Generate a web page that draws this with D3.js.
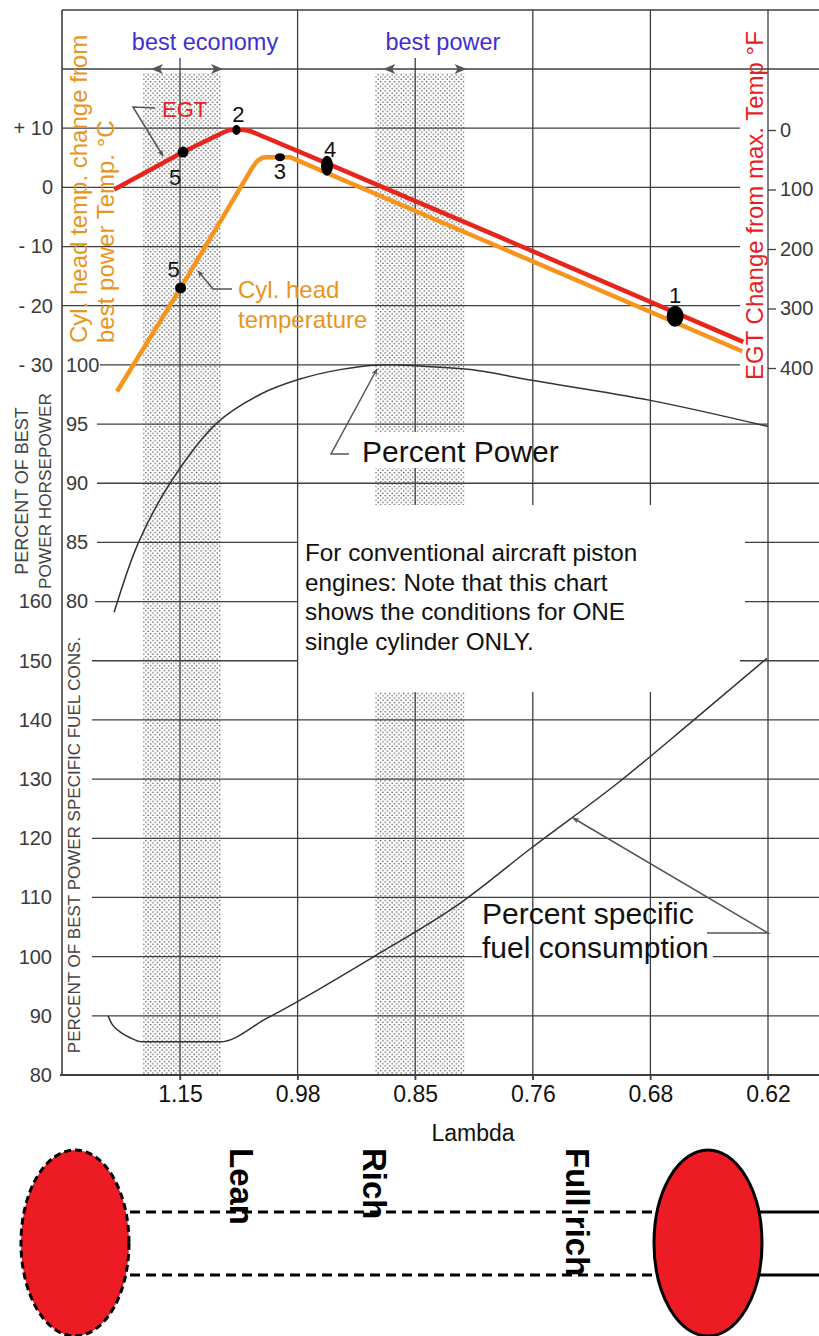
<!DOCTYPE html>
<html><head><meta charset="utf-8">
<script src="https://cdn.jsdelivr.net/npm/d3@7"></script>
<style>body{margin:0;background:#fff}svg{display:block}</style>
</head><body>
<svg id="c" width="819" height="1336"></svg>
<script>
// ---------------- DATA ----------------
const lambdaTicks = ["1.15", "0.98", "0.85", "0.76", "0.68", "0.62"];
const tempTicks = [10, 0, -10, -20, -30];          // Cyl. head temp change °C
const egtTicks = [0, 100, 200, 300, 400];          // EGT change from max °F
const powerTicks = [100, 95, 90, 85, 80];          // % best power horsepower
const fuelTicks = [160, 150, 140, 130, 120, 110, 100, 90, 80]; // % best power SFC

// x = position along the lambda axis in tick-index units (0 = 1.15 ... 5 = 0.62)
const egtX = [-0.56, 0.026, 0.38, 0.42, 0.55, 0.60, 1.25, 2.72, 4.79];
const egtF = [100, 37, 3, 0, 0, 2, 56, 180, 356];
const chtX = [-0.536, 0.009, 0.62, 0.66, 0.70, 0.74, 0.935, 4.78];
const chtC = [-34.5, -16.9, 3.5, 4.5, 5.0, 5.1, 5.1, -27.7];
const powerX = [-0.56, -0.357, -0.085, 0.315, 0.68, 1.02, 1.36, 1.70, 2.04, 2.47, 2.99, 4.0, 5.0];
const powerPct = [79.1, 84.9, 90.0, 95.1, 97.5, 98.8, 99.6, 100, 99.9, 99.6, 98.7, 97.0, 94.8];
const fuelX = [-0.612, -0.578, -0.51, -0.425, -0.323, 0.34, 0.74, 0.98, 1.64, 2.38, 2.99, 3.72, 4.34, 4.99];
const fuelPct = [90, 88.6, 87.3, 86.3, 85.6, 85.6, 89.6, 92.2, 99.9, 109.0, 118.4, 129.3, 139.5, 150.4];

const egtPoints = [{id: "2", x: 0.48, v: 0}, {id: "5", x: 0.026, v: 37}, {id: "4", x: 1.25, v: 60}, {id: "1", x: 4.21, v: 313}];
const chtPoints = [{id: "3", x: 0.85, v: 5.1}, {id: "5", x: 0.005, v: -17}];
const bandNames = ["best economy", "best power"];
const bandFrom = [-0.315, 1.66];
const bandTo = [0.349, 2.42];

// ---------------- LAYOUT ----------------
const svg = d3.select("#c");
const FONT = "'Liberation Sans', Arial, sans-serif";
const GRID = "#3f3f3f";
const RED = "#E8251D", ORANGE = "#F7941D", REDTXT = "#E81E25", ORTXT = "#E8951E", BLUE = "#3F2FD2";

const x = d3.scaleLinear().domain([0, 5]).range([180, 768]);
const row = d3.scaleLinear().domain([0, 17]).range([69, 1075]);
const yT = d3.scaleLinear().domain([20, -30]).range([row(0), row(5)]);
const yE = d3.scaleLinear().domain([0, 400]).range([130, 368]);
const yP = d3.scaleLinear().domain([100, 80]).range([row(5), row(9)]);
const yF = d3.scaleLinear().domain([160, 80]).range([row(9), row(17)]);

svg.append("rect").attr("width", 819).attr("height", 1336).attr("fill", "#fff");

const defs = svg.append("defs");
const pat = defs.append("pattern").attr("id", "dots").attr("width", 4.6).attr("height", 4.6)
  .attr("patternUnits", "userSpaceOnUse");
pat.append("circle").attr("cx", 1.1).attr("cy", 1.1).attr("r", 0.75).attr("fill", "#3a3a3a");
pat.append("circle").attr("cx", 3.4).attr("cy", 3.4).attr("r", 0.75).attr("fill", "#3a3a3a");
defs.append("marker").attr("id", "ah").attr("viewBox", "0 0 10 10").attr("refX", 9).attr("refY", 5)
  .attr("markerWidth", 11).attr("markerHeight", 7).attr("markerUnits", "userSpaceOnUse").attr("orient", "auto")
  .append("path").attr("d", "M0,1 L10,5 L0,9 L3,5 Z").attr("fill", "#555");

// shaded bands
const bandSegs = [[[73, 1075]], [[73, 432], [468, 505], [692, 1075]]];
bandNames.forEach((n, i) => {
  bandSegs[i].forEach(s => {
    svg.append("rect").attr("x", x(bandFrom[i])).attr("width", x(bandTo[i]) - x(bandFrom[i]))
      .attr("y", s[0]).attr("height", s[1] - s[0]).attr("fill", "url(#dots)");
  });
});

// grid
const g = svg.append("g").attr("stroke", GRID).attr("stroke-width", 1.3).attr("fill", "none");
const vSegs = [[[58, 1080]], [[10, 1080]], [[58, 432], [468, 505], [692, 1080]], [[10, 505], [692, 1080]], [[10, 505], [692, 1080]], [[10, 1080]]];
vSegs.forEach((segs, i) => segs.forEach(s => g.append("line").attr("x1", x(i)).attr("x2", x(i)).attr("y1", s[0]).attr("y2", s[1])));
const hSegs = {
  0: [[62, 819]], 1: [[62, 740]], 2: [[62, 740]], 3: [[62, 740]], 4: [[62, 740]], 5: [[100, 740]],
  6: [[97, 768]], 7: [[97, 819]], 8: [[97, 297], [745, 819]], 9: [[95, 297], [745, 819]], 10: [[92, 297], [740, 819]],
  11: [[92, 819]], 12: [[92, 819]], 13: [[92, 819]], 14: [[92, 819]], 15: [[92, 482], [713, 819]], 16: [[92, 819]]
};
Object.keys(hSegs).forEach(r => hSegs[r].forEach(s => g.append("line").attr("x1", s[0]).attr("x2", s[1]).attr("y1", row(+r)).attr("y2", row(+r))));
// frame
g.append("line").attr("x1", 62).attr("x2", 819).attr("y1", 10).attr("y2", 10);
g.append("line").attr("x1", 62).attr("x2", 62).attr("y1", 10).attr("y2", 1076).attr("stroke-width", 1.6);
g.append("line").attr("x1", 60).attr("x2", 819).attr("y1", row(17)).attr("y2", row(17)).attr("stroke-width", 1.8);

// x axis
const xAxis = svg.append("g").attr("transform", `translate(0,${row(17)})`)
  .call(d3.axisBottom(x).tickValues(d3.range(6)).tickFormat(i => lambdaTicks[i]).tickSize(5).tickPadding(6));
xAxis.select(".domain").remove();
xAxis.selectAll("line").attr("stroke", GRID).attr("stroke-width", 1.3);
xAxis.selectAll("text").attr("font-family", FONT).attr("font-size", 23).attr("fill", "#111");
svg.append("text").attr("x", 473).attr("y", 1141).attr("text-anchor", "middle")
  .attr("font-family", FONT).attr("font-size", 23).attr("fill", "#111").text("Lambda");

// left temp axis
const tAx = svg.append("g").attr("transform", "translate(53,0)")
  .call(d3.axisLeft(yT).tickValues(tempTicks).tickSize(0).tickPadding(0)
    .tickFormat(d => d > 0 ? "+ " + d : d < 0 ? "- " + (-d) : "0"));
tAx.select(".domain").remove();
tAx.selectAll("text").attr("font-family", FONT).attr("font-size", 20).attr("fill", "#3a3a3a");
// power axis (labels inside frame)
const pAx = svg.append("g").attr("transform", "translate(66,0)")
  .call(d3.axisRight(yP).tickValues(powerTicks).tickSize(0).tickPadding(0));
pAx.select(".domain").remove();
pAx.selectAll("text").attr("font-family", FONT).attr("font-size", 20).attr("fill", "#3a3a3a");
// fuel axis
const fAx = svg.append("g").attr("transform", "translate(52,0)")
  .call(d3.axisLeft(yF).tickValues(fuelTicks).tickSize(0).tickPadding(0));
fAx.select(".domain").remove();
fAx.selectAll("text").attr("font-family", FONT).attr("font-size", 20).attr("fill", "#3a3a3a");
// EGT axis on right
const eAx = svg.append("g").attr("transform", `translate(${x(5)},0)`)
  .call(d3.axisRight(yE).tickValues(egtTicks).tickSize(8).tickPadding(4));
eAx.select(".domain").remove();
eAx.selectAll("line").attr("stroke", GRID).attr("stroke-width", 1.3);
eAx.selectAll("text").attr("font-family", FONT).attr("font-size", 20).attr("fill", "#3a3a3a");

// axis titles
function vtext(tx, ty, rot, txt, size, fill, anchor, weight) {
  return svg.append("text").attr("transform", `translate(${tx},${ty}) rotate(${rot})`)
    .attr("font-family", FONT).attr("font-size", size).attr("fill", fill)
    .attr("text-anchor", anchor || "start").attr("font-weight", weight || "normal").text(txt);
}
vtext(87, 343, -90, "Cyl. head temp. change from", 24, ORTXT);
vtext(114, 343, -90, "best power Temp. °C", 24, ORTXT);
vtext(763, 380, -90, "EGT Change from max. Temp °F", 24, REDTXT);
vtext(28, 491, -90, "PERCENT OF BEST", 18, "#444", "middle");
vtext(51, 491, -90, "POWER HORSEPOWER", 17.2, "#444", "middle");
vtext(80, 845, -90, "PERCENT OF BEST POWER SPECIFIC FUEL CONS.", 17, "#444", "middle");

// curves
const lineFn = (sx, sy, curve) => d3.line().x(d => sx(d[0])).y(d => sy(d[1])).curve(curve);
svg.append("path").attr("d", lineFn(x, yP, d3.curveCatmullRom)(d3.zip(powerX, powerPct)))
  .attr("fill", "none").attr("stroke", "#333").attr("stroke-width", 1.5);
svg.append("path").attr("d", lineFn(x, yF, d3.curveMonotoneX)(d3.zip(fuelX, fuelPct)))
  .attr("fill", "none").attr("stroke", "#333").attr("stroke-width", 1.5);
svg.append("path").attr("d", lineFn(x, yT, d3.curveLinear)(d3.zip(chtX, chtC)))
  .attr("fill", "none").attr("stroke", ORANGE).attr("stroke-width", 4.5).attr("stroke-linejoin", "round");
svg.append("path").attr("d", lineFn(x, yE, d3.curveLinear)(d3.zip(egtX, egtF)))
  .attr("fill", "none").attr("stroke", RED).attr("stroke-width", 4.5).attr("stroke-linejoin", "round");

// numbered points
const ptStyle = {
  "egt2": {rx: 4, ry: 5, dx: 2, dy: -8}, "egt5": {rx: 5.5, ry: 5.5, dx: -8, dy: 33},
  "egt4": {rx: 6, ry: 10, dx: 3, dy: -9}, "egt1": {rx: 8.5, ry: 10.5, dx: 0, dy: -13},
  "cht3": {rx: 5, ry: 4, dx: 0, dy: 22}, "cht5": {rx: 5.5, ry: 5.5, dx: -7, dy: -11}
};
function drawPts(pts, sy, key) {
  pts.forEach(p => {
    const s = ptStyle[key + p.id];
    const cx = x(p.x), cy = sy(p.v);
    svg.append("ellipse").attr("cx", cx).attr("cy", cy).attr("rx", s.rx).attr("ry", s.ry).attr("fill", "#000");
    svg.append("text").attr("x", cx + s.dx).attr("y", cy + s.dy).attr("text-anchor", "middle")
      .attr("font-family", FONT).attr("font-size", 22).attr("fill", "#111").text(p.id);
  });
}
drawPts(egtPoints, yE, "egt");
drawPts(chtPoints, yT, "cht");

// band labels + double arrows on top line
bandNames.forEach((n, i) => {
  const a = x(bandFrom[i]) + 8, b = x(bandTo[i]) + 2, yy = row(0);
  svg.append("text").attr("x", (x(bandFrom[i]) + x(bandTo[i])) / 2 + 23).attr("y", 50).attr("text-anchor", "middle")
    .attr("font-family", FONT).attr("font-size", 23.5).attr("fill", BLUE).text(n);
  svg.append("path").attr("d", `M${a},${yy} l12,-5 l-3,5 l3,5 Z M${b},${yy} l-12,-5 l3,5 l-3,5 Z`).attr("fill", "#555");
});

// annotations
const ann = svg.append("g").attr("fill", "none").attr("stroke", "#555").attr("stroke-width", 1.5);
ann.append("path").attr("d", "M155,108 L133,107 L163,156").attr("marker-end", "url(#ah)");
ann.append("path").attr("d", "M232,289 L213,289 L198,271").attr("marker-end", "url(#ah)");
ann.append("path").attr("d", "M349,454 L331,454 L377,369").attr("marker-end", "url(#ah)");
ann.append("path").attr("d", "M707,933 L768,933 L573,818").attr("marker-end", "url(#ah)");

function txt(tx, ty, t, size, fill) {
  return svg.append("text").attr("x", tx).attr("y", ty).attr("font-family", FONT)
    .attr("font-size", size).attr("fill", fill).text(t);
}
txt(162, 117, "EGT", 22, REDTXT);
txt(238, 298, "Cyl. head", 24, ORTXT);
txt(238, 328, "temperature", 24, ORTXT);
txt(362, 462, "Percent Power", 30, "#111");
txt(482, 924, "Percent specific", 30, "#111");
txt(482, 958, "fuel consumption", 30, "#111");
["For conventional aircraft piston", "engines: Note that this chart", "shows the conditions for ONE", "single cylinder ONLY."]
  .forEach((t, i) => txt(305, 561 + i * 29.7, t, 24.3, "#111"));

// bottom mixture illustration
const bot = svg.append("g");
bot.append("line").attr("x1", 130).attr("x2", 653).attr("y1", 1212).attr("y2", 1212)
  .attr("stroke", "#000").attr("stroke-width", 3).attr("stroke-dasharray", "10,6");
bot.append("line").attr("x1", 130).attr("x2", 653).attr("y1", 1275).attr("y2", 1275)
  .attr("stroke", "#000").attr("stroke-width", 3).attr("stroke-dasharray", "10,6");
bot.append("line").attr("x1", 760).attr("x2", 819).attr("y1", 1212).attr("y2", 1212).attr("stroke", "#000").attr("stroke-width", 3);
bot.append("line").attr("x1", 760).attr("x2", 819).attr("y1", 1275).attr("y2", 1275).attr("stroke", "#000").attr("stroke-width", 3);
bot.append("ellipse").attr("cx", 75).attr("cy", 1243).attr("rx", 54).attr("ry", 93)
  .attr("fill", "#ED1C24").attr("stroke", "#000").attr("stroke-width", 3).attr("stroke-dasharray", "7,4");
bot.append("ellipse").attr("cx", 708).attr("cy", 1243).attr("rx", 54).attr("ry", 93)
  .attr("fill", "#ED1C24").attr("stroke", "#000").attr("stroke-width", 3);
vtext(230, 1148, 90, "Lean", 33, "#000", "start", "bold");
vtext(363, 1148, 90, "Rich", 33, "#000", "start", "bold");
vtext(566, 1148, 90, "Full rich", 33, "#000", "start", "bold");
</script>
</body></html>
